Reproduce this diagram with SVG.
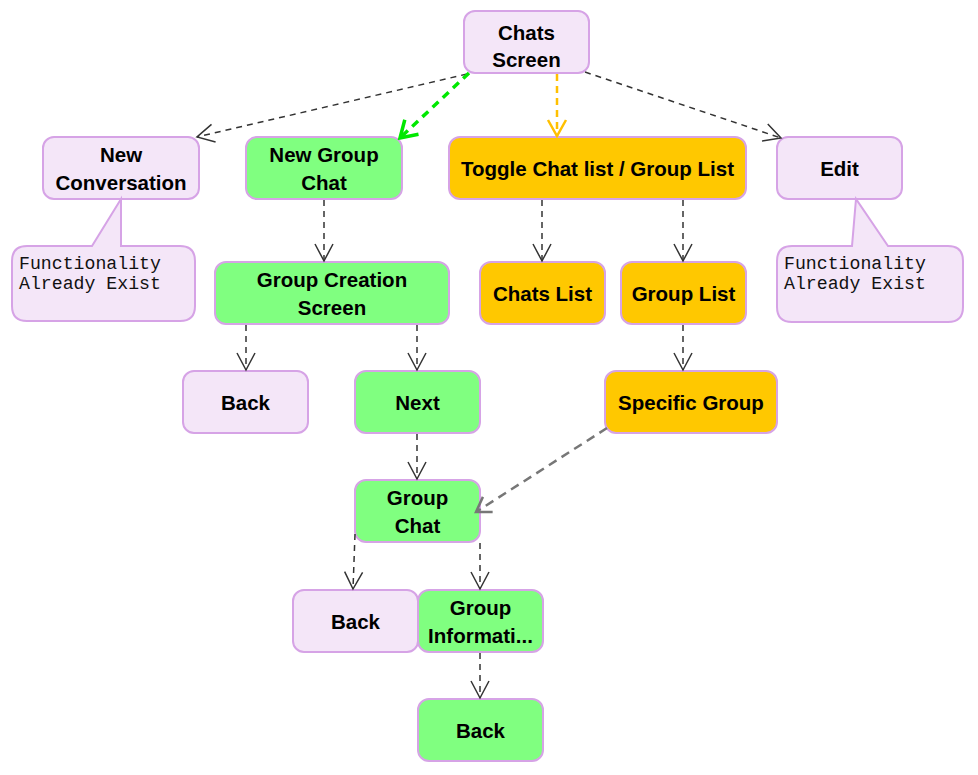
<svg xmlns="http://www.w3.org/2000/svg" width="978" height="775" viewBox="0 0 978 775">
<defs>
<style>
.n rect{stroke:#D6A3E6;stroke-width:2}
.p rect,.p path{fill:#F4E6F8;stroke:#D6A3E6;stroke-width:2}
.g rect{fill:#80FF80}
.o rect{fill:#FFC800}
.lav rect{fill:#F4E6F8}
text{font-family:"Liberation Sans",Arial,sans-serif;font-weight:bold;font-size:20.5px;fill:#000;text-anchor:middle}
text.m{font-family:"Liberation Mono","Courier New",monospace;font-weight:normal;font-size:18.2px;text-anchor:start;fill:#111}
.c line{fill:none;stroke:#333;stroke-width:1.5;stroke-dasharray:6 5}
.c line.gr{stroke:#00E800;stroke-width:3.5;stroke-dasharray:8 6}
.c line.or{stroke:#FFC000;stroke-width:2.5;stroke-dasharray:7 5}
.c line.gy{stroke:#777;stroke-width:2.5;stroke-dasharray:9 6}
</style>
<marker id="ab" viewBox="-19 -11 21 22" refX="0" refY="0" markerWidth="21" markerHeight="22" markerUnits="userSpaceOnUse" orient="auto">
<path d="M-17,-9 L0,0 L-17,9" fill="none" stroke="#333" stroke-width="1.5"/>
</marker>
<marker id="ag" viewBox="-19 -12 22 24" refX="0" refY="0" markerWidth="22" markerHeight="24" markerUnits="userSpaceOnUse" orient="auto">
<path d="M-16,-10 L0,0 L-16,10" fill="none" stroke="#00E800" stroke-width="3.5"/>
</marker>
<marker id="ao" viewBox="-19 -11 21 22" refX="0" refY="0" markerWidth="21" markerHeight="22" markerUnits="userSpaceOnUse" orient="auto">
<path d="M-16,-9 L0,0 L-16,9" fill="none" stroke="#FFC000" stroke-width="2.5"/>
</marker>
<marker id="ay" viewBox="-17 -11 20 22" refX="0" refY="0" markerWidth="20" markerHeight="22" markerUnits="userSpaceOnUse" orient="auto">
<path d="M-14,-9 L0,0 L-14,9" fill="none" stroke="#777" stroke-width="2.5"/>
</marker>
</defs>
<rect width="978" height="775" fill="#fff"/>

<g id="chats-screen" class="n lav"><rect x="464" y="11" width="125" height="62" rx="11"/><text x="526.5" y="40">Chats</text><text x="526.5" y="67">Screen</text></g>
<g id="new-conversation" class="n lav"><rect x="43" y="137" width="156" height="62" rx="11"/><text x="121" y="162">New</text><text x="121" y="190">Conversation</text></g>
<g id="new-group-chat" class="n g"><rect x="246" y="137" width="156" height="62" rx="11"/><text x="324" y="162">New Group</text><text x="324" y="190">Chat</text></g>
<g id="toggle" class="n o"><rect x="449" y="137" width="297" height="62" rx="11"/><text x="597.5" y="176">Toggle Chat list / Group List</text></g>
<g id="edit" class="n lav"><rect x="777" y="137" width="125" height="62" rx="11"/><text x="839.5" y="176">Edit</text></g>

<g id="note-left" class="p"><path d="M27,246 H92 L121,199 V246 H180 Q195,246 195,261 V306 Q195,321 180,321 H27 Q12,321 12,306 V261 Q12,246 27,246 Z"/><text class="m" x="19" y="269">Functionality</text><text class="m" x="19" y="289">Already Exist</text></g>
<g id="note-right" class="p"><path d="M792,246 H852 L856,199 L888,246 H948 Q963,246 963,261 V307 Q963,322 948,322 H792 Q777,322 777,307 V261 Q777,246 792,246 Z"/><text class="m" x="784" y="269">Functionality</text><text class="m" x="784" y="289">Already Exist</text></g>

<g id="group-creation" class="n g"><rect x="215" y="262" width="234" height="62" rx="11"/><text x="332" y="287">Group Creation</text><text x="332" y="315">Screen</text></g>
<g id="chats-list" class="n o"><rect x="480" y="262" width="125" height="62" rx="11"/><text x="542.5" y="301">Chats List</text></g>
<g id="group-list" class="n o"><rect x="621" y="262" width="125" height="62" rx="11"/><text x="683.5" y="301">Group List</text></g>

<g id="back-1" class="n lav"><rect x="183" y="371" width="125" height="62" rx="11"/><text x="245.5" y="410">Back</text></g>
<g id="next" class="n g"><rect x="355" y="371" width="125" height="62" rx="11"/><text x="417.5" y="410">Next</text></g>
<g id="specific-group" class="n o"><rect x="605" y="371" width="172" height="62" rx="11"/><text x="691" y="410">Specific Group</text></g>

<g id="group-chat" class="n g"><rect x="355" y="480" width="125" height="62" rx="11"/><text x="417.5" y="505">Group</text><text x="417.5" y="533">Chat</text></g>

<g id="back-2" class="n lav"><rect x="293" y="590" width="125" height="62" rx="11"/><text x="355.5" y="629">Back</text></g>
<g id="group-information" class="n g"><rect x="418" y="590" width="125" height="62" rx="11"/><text x="480.5" y="615">Group</text><text x="480.5" y="643">Informati...</text></g>
<g id="back-3" class="n g"><rect x="418" y="699" width="125" height="62" rx="11"/><text x="480.5" y="738">Back</text></g>

<g id="connectors" class="c">
<line x1="467" y1="74" x2="197" y2="137" marker-end="url(#ab)"/>
<line class="gr" x1="469" y1="73" x2="400" y2="138" marker-end="url(#ag)"/>
<line class="or" x1="557" y1="74" x2="557" y2="136" marker-end="url(#ao)"/>
<line x1="585" y1="72" x2="781" y2="138" marker-end="url(#ab)"/>
<line x1="324" y1="200" x2="324" y2="261" marker-end="url(#ab)"/>
<line x1="542" y1="200" x2="542" y2="261" marker-end="url(#ab)"/>
<line x1="683" y1="200" x2="683" y2="261" marker-end="url(#ab)"/>
<line x1="246" y1="325" x2="246" y2="370" marker-end="url(#ab)"/>
<line x1="417" y1="325" x2="417" y2="370" marker-end="url(#ab)"/>
<line x1="683" y1="325" x2="683" y2="370" marker-end="url(#ab)"/>
<line x1="417" y1="434" x2="417" y2="479" marker-end="url(#ab)"/>
<line class="gy" x1="607" y1="428" x2="476" y2="512" marker-end="url(#ay)"/>
<line x1="355" y1="534" x2="353" y2="589" marker-end="url(#ab)"/>
<line x1="480" y1="543" x2="480" y2="589" marker-end="url(#ab)"/>
<line x1="480" y1="653" x2="480" y2="698" marker-end="url(#ab)"/>
</g>
</svg>
